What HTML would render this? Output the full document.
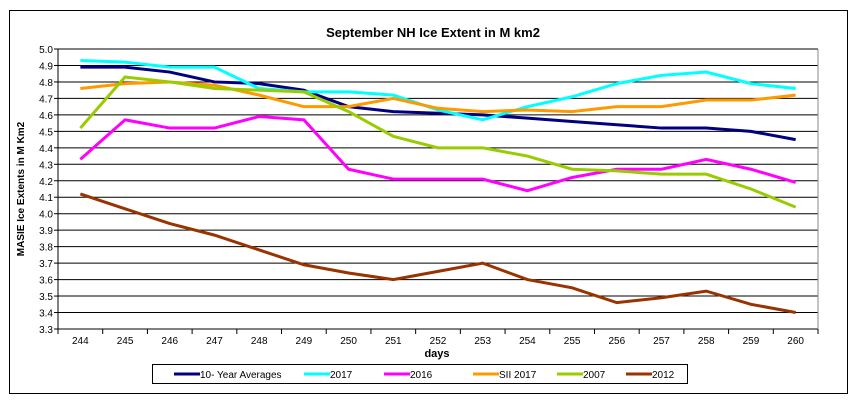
<!DOCTYPE html>
<html><head><meta charset="utf-8"><style>
body{margin:0;background:#fff;}
svg{display:block;font-family:"Liberation Sans",Arial,sans-serif;}
</style></head><body>
<svg id="c" width="867" height="405" viewBox="0 0 867 405">
<rect x="9.5" y="10.5" width="838" height="383" fill="#fff" stroke="#000" stroke-width="1"/>
<text x="433" y="37" font-size="13" font-weight="bold" text-anchor="middle">September NH Ice Extent in M km2</text>
<g id="grid"></g>
<line x1="818" y1="49" x2="818" y2="329" stroke="#888"/>
<g id="series"></g>
<text x="437" y="357" font-size="11" font-weight="bold" text-anchor="middle">days</text>
<text transform="translate(24,189) rotate(-90)" font-size="10" font-weight="bold" text-anchor="middle">MASIE Ice Extents in M Km2</text>
<rect x="152.5" y="364.5" width="535" height="19" fill="#fff" stroke="#000"/>
<g id="leg" font-size="10"></g>
</svg>
<script>
const L=58,R=818,T=49,B=329,N=17,w=(R-L)/N;
const y=v=>B-(v-3.3)/1.7*(B-T), x=i=>L+w*(i+0.5);
let g='';
for(let k=0;k<=17;k++){const v=3.3+k*0.1,yy=y(v);
 g+=`<line x1="${L}" y1="${yy}" x2="${R}" y2="${yy}" stroke="#000" stroke-width="1"/>`;
 g+=`<line x1="${L-4}" y1="${yy}" x2="${L}" y2="${yy}" stroke="#000"/>`;
 g+=`<text x="${L-5}" y="${yy+4}" font-size="10" text-anchor="end">${v.toFixed(1)}</text>`;}
g+=`<line x1="${L}" y1="${T}" x2="${L}" y2="${B}" stroke="#000"/>`;
for(let i=0;i<=N;i++){const xx=L+w*i;g+=`<line x1="${xx}" y1="${B}" x2="${xx}" y2="${B+5}" stroke="#000"/>`;}
for(let i=0;i<N;i++)g+=`<text x="${x(i)}" y="${B+15}" font-size="10" text-anchor="middle">${244+i}</text>`;
document.getElementById('grid').innerHTML=g;
const S=[
["10- Year Averages","#000080",[4.89,4.89,4.86,4.80,4.79,4.75,4.65,4.62,4.61,4.60,4.58,4.56,4.54,4.52,4.52,4.50,4.45]],
["2017","#00ffff",[4.93,4.92,4.89,4.89,4.76,4.74,4.74,4.72,4.63,4.57,4.65,4.71,4.79,4.84,4.86,4.79,4.76]],
["2016","#ff00ff",[4.33,4.57,4.52,4.52,4.59,4.57,4.27,4.21,4.21,4.21,4.14,4.22,4.27,4.27,4.33,4.27,4.19]],
["SII 2017","#ff9900",[4.76,4.79,4.80,4.78,4.72,4.65,4.65,4.70,4.64,4.62,4.63,4.62,4.65,4.65,4.69,4.69,4.72]],
["2007","#99cc00",[4.52,4.83,4.80,4.76,4.75,4.74,4.62,4.47,4.40,4.40,4.35,4.27,4.26,4.24,4.24,4.15,4.04]],
["2012","#993300",[4.12,4.03,3.94,3.87,3.78,3.69,3.64,3.60,3.65,3.70,3.60,3.55,3.46,3.49,3.53,3.45,3.40]]];
let s='',l='';const lx=[174,304,384,473,557,626];
S.forEach((d,j)=>{s+=`<polyline fill="none" stroke="${d[1]}" stroke-width="3" points="${d[2].map((v,i)=>x(i)+','+y(v)).join(' ')}"/>`;
 l+=`<line x1="${lx[j]}" y1="374" x2="${lx[j]+26}" y2="374" stroke="${d[1]}" stroke-width="3"/><text x="${lx[j]+26}" y="378">${d[0]}</text>`;});
document.getElementById('series').innerHTML=s;document.getElementById('leg').innerHTML=l;
</script>
</body></html>
